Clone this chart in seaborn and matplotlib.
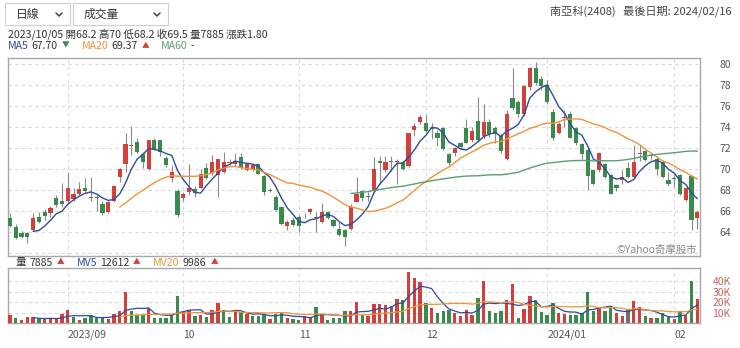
import numpy as np
import pandas as pd
import matplotlib
matplotlib.use("Agg")
import matplotlib.pyplot as plt
from matplotlib.patches import Rectangle
from matplotlib.lines import Line2D
import seaborn as sns

# 南亞科(2408) daily quotes, 2023/08/18 - 2024/02/16
opens = [65.3, 64.4, 63.85, 63.85, 64.2, 65.45, 65.9, 65.75, 67.25, 66.9,
         66.95, 67.15, 67.6, 68.2, 67.35, 67.3, 66.65, 65.85, 66.95, 69.25,
         70.45, 72.15, 72.55, 71.4, 69.95, 72.8, 72.8, 71.05, 69.1, 67.85,
         67.2, 67.8, 68.1, 68.2, 70.05, 69.6, 69.4, 69.75, 70.55, 70.5,
         71.15, 69.9, 69.9, 70.5, 69.35, 67.95, 67.35, 66.35, 64.5, 65.1,
         65.45, 65.55, 65.85, 65.4, 64.95, 65.9, 65.15, 64.3, 64.15, 64.25,
         66.85, 67.9, 67.4, 67.85, 70.75, 69.9, 70.7, 70.65, 70.65, 70.3,
         73.7, 74.5, 74.4, 73.9, 73.45, 73.9, 71.45, 71.55, 72.45, 73.9,
         72.75, 74.6, 73.2, 74.45, 73.95, 73.2, 71.0, 76.8, 76.45, 75.25,
         77.8, 79.7, 78.6, 78.0, 75.45, 73.4, 74.85, 75.3, 73.9, 72.4,
         71.8, 69.9, 69.9, 70.45, 69.45, 68.45, 68.9, 70.05, 69.25, 71.4,
         71.75, 71.35, 71.0, 70.7, 68.95, 69.1, 69.45, 67.05, 69.35, 65.35]
highs = [65.8, 64.7, 64.05, 63.95, 65.75, 65.9, 66.15, 66.45, 67.5, 68.7,
         69.7, 68.2, 68.8, 69.1, 69.2, 67.5, 66.9, 66.9, 68.5, 70.05,
         73.4, 74.15, 73.0, 71.6, 72.8, 73.0, 72.8, 71.2, 70.4, 68.1,
         67.75, 70.5, 68.4, 70.0, 70.6, 71.3, 71.0, 71.65, 71.0, 71.5,
         71.5, 70.6, 70.45, 70.6, 69.45, 68.2, 67.5, 66.5, 65.1, 65.4,
         65.6, 65.8, 66.3, 65.9, 66.7, 66.0, 65.25, 64.9, 64.3, 66.6,
         69.25, 67.95, 67.8, 71.1, 71.2, 71.2, 71.2, 70.95, 70.8, 73.4,
         74.4, 75.15, 75.15, 74.4, 73.7, 74.0, 71.55, 72.1, 72.6, 74.75,
         74.0, 76.9, 76.2, 74.75, 74.1, 73.35, 75.6, 79.7, 76.6, 78.0,
         79.8, 80.25, 78.9, 78.5, 75.7, 74.5, 75.6, 75.5, 74.05, 72.5,
         72.0, 70.0, 71.6, 70.55, 69.5, 68.6, 69.9, 70.7, 72.3, 72.3,
         71.8, 71.5, 71.2, 70.9, 69.7, 69.4, 69.5, 68.3, 69.45, 66.05]
lows = [64.4, 63.3, 63.35, 62.9, 64.1, 64.8, 65.1, 65.45, 66.4, 66.4,
        66.85, 66.9, 67.5, 67.8, 66.9, 66.0, 65.6, 65.75, 66.85, 68.8,
        69.75, 71.3, 71.5, 70.1, 69.9, 71.8, 71.2, 70.2, 68.8, 65.4,
        66.95, 67.5, 67.3, 68.2, 69.0, 69.45, 67.35, 69.6, 70.4, 70.3,
        69.95, 69.8, 69.8, 69.5, 67.5, 67.8, 66.0, 64.6, 64.2, 64.5,
        64.0, 65.3, 65.7, 64.0, 64.85, 65.2, 64.4, 63.55, 62.6, 64.2,
        66.8, 66.9, 66.9, 67.8, 68.6, 69.7, 69.8, 68.6, 69.9, 70.2,
        73.2, 74.3, 73.5, 72.9, 72.15, 71.8, 70.4, 71.2, 71.95, 72.45,
        72.6, 72.6, 73.0, 73.1, 72.5, 71.5, 70.9, 75.6, 75.0, 75.1,
        77.6, 78.0, 77.6, 76.2, 72.8, 73.3, 74.0, 72.95, 72.3, 71.0,
        67.95, 68.5, 69.75, 69.1, 67.6, 67.85, 68.6, 69.1, 69.15, 70.8,
        70.75, 71.0, 69.4, 69.1, 68.4, 68.3, 67.5, 66.9, 64.15, 64.3]
closes = [64.5, 63.4, 63.45, 63.5, 65.3, 64.9, 65.5, 66.25, 66.55, 66.6,
          68.2, 67.6, 68.05, 67.9, 67.25, 67.2, 65.75, 66.85, 68.35, 69.95,
          72.4, 72.3, 71.65, 70.65, 72.8, 71.95, 71.6, 70.4, 69.75, 65.55,
          67.6, 68.15, 67.7, 69.5, 69.1, 70.7, 70.95, 70.7, 70.65, 70.75,
          70.1, 70.5, 70.35, 69.55, 67.75, 67.9, 66.1, 64.75, 64.9, 64.6,
          64.5, 65.55, 66.15, 65.35, 65.9, 65.35, 64.5, 63.7, 63.45, 66.4,
          67.6, 67.2, 67.35, 70.0, 70.55, 70.7, 70.7, 70.8, 70.0, 73.4,
          74.15, 74.95, 73.6, 73.8, 73.0, 71.9, 70.55, 72.05, 72.1, 72.45,
          73.65, 72.75, 74.45, 73.35, 73.3, 71.7, 75.3, 75.8, 75.25, 77.9,
          79.7, 78.25, 77.9, 76.45, 72.95, 74.35, 74.95, 73.0, 72.45, 71.4,
          69.3, 68.6, 71.5, 69.25, 67.65, 68.15, 69.25, 69.25, 70.7, 71.5,
          70.85, 71.2, 70.0, 69.25, 68.55, 69.0, 67.6, 68.2, 65.1, 65.9]
volumes = [7200, 4600, 2600, 5600, 5600, 4000, 3400, 3400, 4600, 8200,
           12700, 6000, 3200, 4800, 7500, 4800, 5500, 4000, 9000, 11500,
           30000, 11860, 8000, 8000, 14000, 5000, 5000, 5000, 7500, 26000,
           10400, 12275, 6500, 7885, 5600, 12000, 19400, 12000, 5600, 11000,
           10400, 8800, 6500, 6500, 8800, 4000, 8800, 10400, 5000, 4000,
           2800, 7000, 6000, 15500, 8500, 3000, 5000, 5000, 11200, 11200,
           19800, 7200, 6200, 18400, 17800, 16800, 15900, 23200, 21600, 48900,
           42500, 38600, 19400, 14600, 9800, 11000, 12000, 9500, 6200, 12000,
           7800, 23900, 40200, 11000, 9500, 11000, 21600, 36700, 4600, 13600,
           25500, 22300, 10400, 7800, 19400, 9800, 8200, 7200, 7200, 9500,
           29600, 11000, 14600, 11000, 14200, 9800, 6500, 12600, 21000, 15200,
           6200, 4600, 4600, 9500, 5600, 4000, 11000, 7800, 40200, 23200]

# TWSE closed days inside the range
holidays = ["2023-09-29", "2023-10-09", "2023-10-10", "2024-01-01",
            "2024-02-06", "2024-02-07", "2024-02-08", "2024-02-09",
            "2024-02-12", "2024-02-13", "2024-02-14"]
stock_name = "南亞科(2408)"
focus_day = "2023-10-05"

days = pd.bdate_range("2023-08-18", "2024-02-16")
days = days[~days.isin(pd.to_datetime(holidays))]

df = pd.DataFrame({"date": days, "open": opens, "high": highs, "low": lows,
                   "close": closes, "volume": volumes})
df["i"] = np.arange(len(df))
df["ma5"] = df["close"].rolling(5).mean()
df["ma20"] = df["close"].rolling(20).mean()
df["ma60"] = df["close"].rolling(60).mean()
df["mv5"] = df["volume"].rolling(5).mean()
df["mv20"] = df["volume"].rolling(20).mean()

RED, GREEN, GRAY = "#d2403b", "#3a8a4e", "#6e6e6e"
C_MA5, C_MA20, C_MA60 = "#2f4b9c", "#f0923a", "#5a9e74"
GRID = "#dadada"
SPINE = "#a8a8a8"
TXT = "#333333"

sns.set_theme(style="white")
FONT = ["Noto Sans CJK TC", "DejaVu Sans"]
plt.rcParams["font.family"] = FONT

W, H = 740, 348
fig = plt.figure(figsize=(W / 100, H / 100), dpi=100)
ax = fig.add_axes([8 / W, 1 - 256 / H, 692 / W, 198 / H])
axv = fig.add_axes([8 / W, 1 - 323 / H, 692 / W, 55 / H])

# month boundaries on the trading-day axis
first_of_month = df.groupby([df.date.dt.year, df.date.dt.month])["i"].min().values[1:]
tick_labels = []
for k, j in enumerate(first_of_month):
    d = df.date.iloc[j]
    tick_labels.append(f"{d.year}/{d.month:02d}" if (k == 0 or d.month == 1) else f"{d.month:02d}")

# ---- candlesticks ----
o, c = df["open"].values, df["close"].values
cand_col = np.where(c > o, RED, np.where(c < o, GREEN, GRAY))
ax.vlines(df["i"], df["low"], df["high"], color="#8a8a8a", lw=0.8, zorder=2)
body_lo = np.minimum(o, c)
body_h = np.maximum(np.abs(c - o), 0.05)
ax.bar(df["i"], body_h, bottom=body_lo, width=0.72, color=cand_col, linewidth=0, zorder=3)

sns.lineplot(data=df, x="i", y="ma5", ax=ax, color=C_MA5, lw=1.0, legend=False, zorder=4)
sns.lineplot(data=df, x="i", y="ma20", ax=ax, color=C_MA20, lw=1.0, legend=False, zorder=4)
sns.lineplot(data=df, x="i", y="ma60", ax=ax, color=C_MA60, lw=1.0, legend=False, zorder=4)

xlim = (-0.35, len(df) - 0.54)
ax.set_xlim(*xlim)
ax.set_ylim(61.67, 80.62)
ax.set_yticks(np.arange(62, 81, 2))
ax.set_yticklabels(["" if v == 62 else str(v) for v in np.arange(62, 81, 2)])
ax.yaxis.tick_right()
ax.tick_params(axis="y", length=0, pad=14, labelsize=7.5, labelcolor="#555555")
ax.set_xticks(first_of_month)
ax.tick_params(axis="x", length=0, labelbottom=False)
ax.grid(True, color=GRID, lw=0.8, ls=(0, (3, 3)))
ax.set_xlabel("")
ax.set_ylabel("")
for s in ax.spines.values():
    s.set_color(SPINE)
    s.set_linewidth(1.0)
ax.text(0.996, 0.03, "©Yahoo奇摩股市", transform=ax.transAxes, ha="right", va="center",
        fontsize=7.5, color="#8a8a8a", family=FONT)

# ---- volume ----
chg = np.diff(c, prepend=c[0] - 0.1)
vol_col = np.where(chg > 0, RED, np.where(chg < 0, GREEN, GRAY))
axv.bar(df["i"], df["volume"], width=0.58, color=vol_col, linewidth=0, zorder=3)
sns.lineplot(data=df, x="i", y="mv5", ax=axv, color=C_MA5, lw=0.9, legend=False, zorder=4)
sns.lineplot(data=df, x="i", y="mv20", ax=axv, color=C_MA20, lw=0.9, legend=False, zorder=4)
axv.set_xlim(*xlim)
axv.set_ylim(0, 52400)
axv.set_yticks([10000, 20000, 30000, 40000])
axv.set_yticklabels(["10K", "20K", "30K", "40K"])
axv.yaxis.tick_right()
axv.tick_params(axis="y", length=0, pad=9, labelsize=7.5, labelcolor="#c8625c")
axv.set_xticks(first_of_month)
axv.set_xticklabels(tick_labels)
axv.tick_params(axis="x", length=0, pad=5, labelsize=7.5, labelcolor="#555555")
for lab in axv.get_xticklabels():
    lab.set_horizontalalignment("left")
axv.grid(True, color=GRID, lw=0.8, ls=(0, (3, 3)))
axv.set_xlabel("")
axv.set_ylabel("")
for s in axv.spines.values():
    s.set_color(SPINE)
    s.set_linewidth(1.0)

# ---- header ----
renderer = fig.canvas.get_renderer()
FS = 7.6


def run_text(x, y, pieces):
    for s, col, size, gap in pieces:
        t = fig.text(x / W, 1 - y / H, s, color=col, fontsize=size, family=FONT,
                     ha="left", va="center")
        x += t.get_window_extent(renderer).width + gap


def arrow(now, prev):
    return ("▲", RED) if now > prev else ("▼", GREEN)


k = int(df.index[df.date == pd.Timestamp(focus_day)][0])
row, prev = df.iloc[k], df.iloc[k - 1]


def num(v):
    return f"{v:g}"


line1 = (f"{row.date:%Y/%m/%d} 開{num(row.open)} 高{num(row.high)} 低{num(row.low)} "
         f"收{num(row.close)} 量{int(row.volume)} 漲跌{row.close - prev.close:.2f}")
run_text(8, 34, [(line1, TXT, FS, 0)])

a5 = arrow(row.ma5, prev.ma5)
a20 = arrow(row.ma20, prev.ma20)
ma60_txt = "-" if np.isnan(row.ma60) else f"{row.ma60:.2f}"
run_text(8, 46, [("MA5", C_MA5, FS, 3), (f"{row.ma5:.2f}", TXT, FS, 4), (a5[0], a5[1], 5.5, 12),
                 ("MA20", C_MA20, FS, 3), (f"{row.ma20:.2f}", TXT, FS, 4), (a20[0], a20[1], 5.5, 12),
                 ("MA60", C_MA60, FS, 3), (ma60_txt, TXT, FS, 0)])

av = arrow(row.volume, prev.volume)
am5 = arrow(row.mv5, prev.mv5)
am20 = arrow(row.mv20, prev.mv20)
run_text(16, 262.5, [("量", TXT, FS, 3), (f"{int(row.volume)}", TXT, FS, 4), (av[0], av[1], 5.5, 12),
                     ("MV5", C_MA5, FS, 3), (f"{row.mv5:.0f}", TXT, FS, 4), (am5[0], am5[1], 5.5, 12),
                     ("MV20", C_MA20, FS, 3), (f"{row.mv20:.0f}", TXT, FS, 5), (am20[0], am20[1], 5.5, 0)])

# dropdown selectors
for x0, x1, label in [(5, 70, "日線"), (73, 168, "成交量")]:
    fig.patches.append(Rectangle((x0 / W, 1 - 25 / H), (x1 - x0) / W, 22 / H,
                                 transform=fig.transFigure, facecolor="white",
                                 edgecolor="#cfcfcf", lw=0.8))
    fig.text((x0 + 11) / W, 1 - 14.5 / H, label, fontsize=8.5, color=TXT, family=FONT,
             ha="left", va="center")
    cx = x1 - 11
    fig.lines.append(Line2D([(cx - 3) / W, cx / W, (cx + 3) / W],
                            [1 - 13 / H, 1 - 16 / H, 1 - 13 / H],
                            transform=fig.transFigure, color="#444444", lw=1.1))

fig.text(732 / W, 1 - 11.5 / H, f"{stock_name}   最後日期: {df.date.iloc[-1]:%Y/%m/%d}",
         fontsize=8, color="#444444", family=FONT, ha="right", va="center")

fig.savefig("out.png", dpi=100)
